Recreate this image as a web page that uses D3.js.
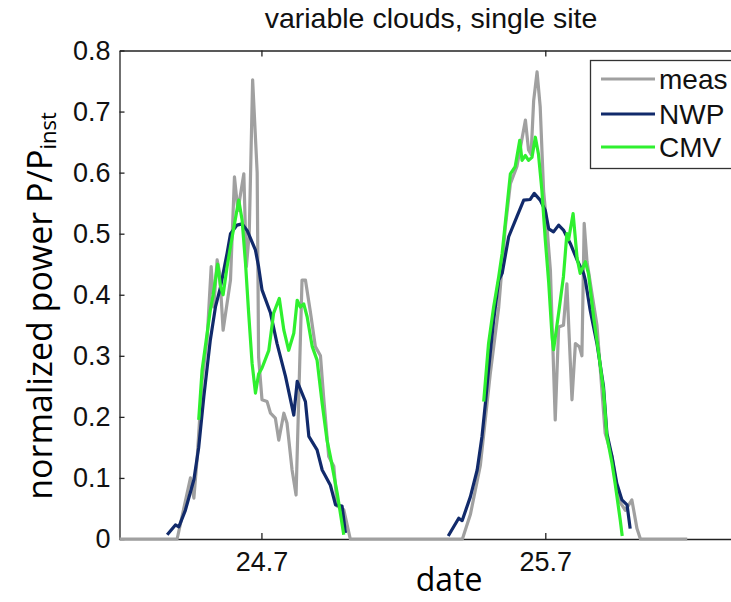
<!DOCTYPE html>
<html lang="en">
<head>
<meta charset="utf-8">
<title>variable clouds, single site</title>
<script src="https://d3js.org/d3.v7.min.js"></script>
<style>
  body { margin: 0; background: #fff; }
  svg { display: block; overflow: hidden; background: #fff; }
  .axis text { font-family: "Liberation Sans", Arial, sans-serif; font-size: 27px; fill: #111; }
  .axis line, .axis path { stroke: #222; stroke-width: 1.3px; }
  .title { font-family: "Liberation Sans", Arial, sans-serif; font-size: 28.5px; fill: #111; }
  .label { font-family: "Open Sans", sans-serif; font-size: 32px; fill: #000; }
  .legend text { font-family: "Liberation Sans", Arial, sans-serif; font-size: 28px; fill: #111; }
</style>
</head>
<body>
<svg id="chart" width="731" height="602"></svg>
<script>
// measured power (gray), zero during the night
var measDate = [24.2, 24.403, 24.45, 24.462, 24.474, 24.491, 24.509, 24.523, 24.532, 24.544, 24.553, 24.565,
  24.591, 24.605, 24.617, 24.638, 24.647, 24.657, 24.669, 24.685, 24.69, 24.702, 24.72, 24.732, 24.749,
  24.761, 24.779, 24.79, 24.808, 24.822, 24.843, 24.855, 24.873, 24.89, 24.908, 24.919, 24.937, 24.955,
  24.967, 24.99, 25.013, 25.408, 25.436, 25.471, 25.506, 25.536, 25.559, 25.577, 25.6, 25.63, 25.641,
  25.65, 25.659, 25.671, 25.682, 25.694, 25.706, 25.718, 25.735, 25.747, 25.764, 25.776, 25.794, 25.806,
  25.82, 25.829, 25.837, 25.847, 25.865, 25.882, 25.894, 25.911, 25.935, 25.958, 25.982, 26.005, 26.023,
  26.035, 26.2];
var measVal = [0, 0, 0.1, 0.067, 0.135, 0.26, 0.33, 0.446, 0.38, 0.457, 0.435, 0.342,
  0.424, 0.593, 0.538, 0.598, 0.446, 0.5, 0.752, 0.6, 0.298, 0.228, 0.225, 0.206, 0.198,
  0.162, 0.206, 0.19, 0.113, 0.072, 0.424, 0.424, 0.37, 0.315, 0.3, 0.233, 0.135, 0.119,
  0.054, 0.048, 0, 0, 0.04, 0.12, 0.27, 0.38, 0.51, 0.582, 0.61, 0.686, 0.637,
  0.63, 0.718, 0.765, 0.708, 0.57, 0.51, 0.44, 0.195, 0.347, 0.35, 0.418, 0.228, 0.32,
  0.315, 0.3, 0.517, 0.454, 0.4, 0.35, 0.277, 0.173, 0.135, 0.064, 0.047, 0.064, 0.017,
  0, 0];

// NWP forecast (navy), null = no value at night
var nwpDate = [24.368, 24.397, 24.409, 24.432, 24.462, 24.479, 24.497, 24.52, 24.538, 24.556, 24.579,
  24.591, 24.614, 24.632, 24.65, 24.679, 24.69, 24.702, 24.732, 24.755, 24.785, 24.814, 24.826,
  24.855, 24.867, 24.896, 24.914, 24.943, 24.961, 24.984, 24.996, 25.2,
  25.358, 25.395, 25.407, 25.436, 25.46, 25.477, 25.489, 25.5, 25.518, 25.536, 25.548, 25.571,
  25.6, 25.624, 25.647, 25.661, 25.682, 25.7, 25.712, 25.729, 25.747, 25.764, 25.788, 25.812,
  25.835, 25.841, 25.858, 25.882, 25.905, 25.917, 25.935, 25.952, 25.97, 25.988, 25.999];
var nwpVal = [0.007, 0.023, 0.02, 0.047, 0.097, 0.15, 0.233, 0.326, 0.38, 0.413, 0.468,
  0.5, 0.514, 0.516, 0.505, 0.473, 0.446, 0.408, 0.37, 0.32, 0.266, 0.203, 0.258,
  0.225, 0.168, 0.146, 0.113, 0.088, 0.056, 0.054, 0.01, null,
  0.005, 0.034, 0.03, 0.069, 0.113, 0.168, 0.222, 0.277, 0.358, 0.424, 0.435, 0.495,
  0.528, 0.555, 0.556, 0.566, 0.555, 0.538, 0.508, 0.503, 0.514, 0.506, 0.484, 0.457,
  0.435, 0.424, 0.375, 0.32, 0.25, 0.173, 0.135, 0.091, 0.064, 0.056, 0.017];

// CMV forecast (green)
var cmvDate = [24.479, 24.491, 24.52, 24.53, 24.546, 24.556, 24.565, 24.579, 24.597, 24.62, 24.632,
  24.644, 24.655, 24.667, 24.679, 24.69, 24.702, 24.726, 24.743, 24.763, 24.779, 24.796, 24.814,
  24.826, 24.837, 24.849, 24.861, 24.879, 24.896, 24.914, 24.931, 24.943, 24.967, 24.99, 25.2,
  25.483, 25.5, 25.518, 25.536, 25.548, 25.577, 25.594, 25.61, 25.618, 25.63, 25.641, 25.653,
  25.665, 25.676, 25.688, 25.7, 25.712, 25.724, 25.729, 25.747, 25.764, 25.776, 25.782, 25.798,
  25.812, 25.823, 25.841, 25.852, 25.87, 25.888, 25.905, 25.917, 25.935, 25.946, 25.964, 25.971];
var cmvVal = [0.195, 0.277, 0.375, 0.4, 0.45, 0.413, 0.4, 0.446, 0.495, 0.555, 0.522,
  0.451, 0.37, 0.288, 0.239, 0.27, 0.28, 0.309, 0.37, 0.394, 0.342, 0.309, 0.337,
  0.391, 0.38, 0.385, 0.364, 0.315, 0.293, 0.222, 0.162, 0.135, 0.075, 0.007, null,
  0.225, 0.32, 0.38, 0.43, 0.468, 0.598, 0.61, 0.653, 0.62, 0.628, 0.62, 0.625,
  0.658, 0.63, 0.571, 0.49, 0.42, 0.33, 0.31, 0.37, 0.43, 0.5, 0.49, 0.533,
  0.46, 0.435, 0.454, 0.435, 0.364, 0.304, 0.244, 0.168, 0.124, 0.091, 0.031, 0.005];

var yTicks = [0, 0.1, 0.2, 0.3, 0.4, 0.5, 0.6, 0.7, 0.8];
var xTicks = [24.7, 25.7];
var seriesNames = ["meas", "NWP", "CMV"];
var seriesColors = ["#a0a0a0", "#112a6b", "#2ff02f"];

var svg = d3.select("#chart");

// plot box in pixels (right edge lies just outside the picture)
var plotLeft = 119.5, plotTop = 50.5, plotBottom = 539, plotRight = 744;
var x = d3.scaleLinear().domain([24.2, 26.4]).range([plotLeft, plotRight]);
var y = d3.scaleLinear().domain([0, 0.8]).range([plotBottom, plotTop]);

// title
svg.append("text").attr("class", "title")
  .attr("x", 431).attr("y", 28).attr("text-anchor", "middle")
  .text("variable clouds, single site");

// axes (MATLAB style ticks pointing inward)
svg.append("g").attr("class", "axis")
  .attr("transform", `translate(${plotLeft},0)`)
  .call(d3.axisLeft(y).tickValues(yTicks).tickSizeInner(-5).tickSizeOuter(0).tickPadding(9)
    .tickFormat(d => d === 0 ? "0" : d3.format(".1f")(d)));

svg.append("g").attr("class", "axis")
  .attr("transform", `translate(0,${plotBottom})`)
  .call(d3.axisBottom(x).tickValues(xTicks).tickSizeInner(-6).tickSizeOuter(0).tickPadding(13)
    .tickFormat(d3.format(".1f")));

svg.append("g").attr("class", "axis")
  .attr("transform", `translate(0,${plotTop})`)
  .call(d3.axisTop(x).tickValues(xTicks).tickSizeInner(-6).tickSizeOuter(0).tickFormat(""));

// lines
var line = d3.line()
  .defined(d => d[1] !== null)
  .x(d => x(d[0]))
  .y(d => y(d[1]));

var series = [
  d3.zip(measDate, measVal),
  d3.zip(nwpDate, nwpVal),
  d3.zip(cmvDate, cmvVal)
];

series.forEach(function(s, i) {
  svg.append("path")
    .datum(s)
    .attr("fill", "none")
    .attr("stroke", seriesColors[i])
    .attr("stroke-width", 3.2)
    .attr("stroke-linejoin", "round")
    .attr("d", line);
});

// legend
var lg = svg.append("g").attr("class", "legend");
lg.append("rect")
  .attr("x", 590.5).attr("y", 60.5).attr("width", 142).attr("height", 108)
  .attr("fill", "#fff").attr("stroke", "#333").attr("stroke-width", 1.3);
var rowY = [79, 114, 147];
seriesNames.forEach(function(name, i) {
  lg.append("line")
    .attr("x1", 601).attr("x2", 655)
    .attr("y1", rowY[i]).attr("y2", rowY[i])
    .attr("stroke", seriesColors[i]).attr("stroke-width", 3.2);
  lg.append("text")
    .attr("x", 659).attr("y", rowY[i] + 10)
    .text(name);
});

// axis labels
svg.append("text").attr("class", "label")
  .attr("x", 449).attr("y", 591).attr("text-anchor", "middle")
  .text("date");

var yl = svg.append("text").attr("class", "label")
  .style("font-size", "34px")
  .attr("transform", "translate(52,306) rotate(-90)")
  .attr("text-anchor", "middle");
yl.append("tspan").text("normalized power P/P");
yl.append("tspan").attr("font-size", "22px").attr("dy", 4).text("inst");
</script>
</body>
</html>
